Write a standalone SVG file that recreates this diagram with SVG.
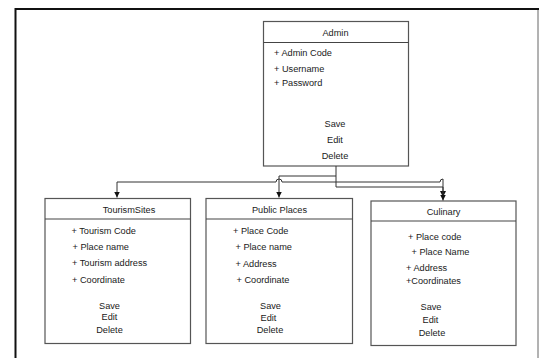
<svg xmlns="http://www.w3.org/2000/svg" width="539" height="358" viewBox="0 0 539 358">
<defs>
<style>
text{font-family:"Liberation Sans",Arial,sans-serif;font-size:9.2px;fill:#1a1a1a}
.c{text-anchor:middle}
.box{fill:#fff;stroke:#555;stroke-width:1.2}
.sep{stroke:#444;stroke-width:1.2}
.ln{fill:none;stroke:#333;stroke-width:1}
</style>
<marker id="ah" viewBox="0 0 8 8" refX="8" refY="4" markerWidth="6" markerHeight="6" markerUnits="userSpaceOnUse" orient="auto">
<path d="M0,0 L8,4 L0,8 Z" fill="#111"/>
</marker>
</defs>
<rect width="539" height="358" fill="#fff"/>
<g id="frame">
<line x1="15.5" y1="9" x2="539" y2="9" stroke="#111" stroke-width="2"/>
<line x1="15.5" y1="8" x2="15.5" y2="358" stroke="#111" stroke-width="2"/>
<line x1="538" y1="10" x2="538" y2="358" stroke="#666" stroke-width="1"/>
</g>
<g id="admin">
<rect class="box" x="263.5" y="21.5" width="145" height="144.5"/>
<line class="sep" x1="263.5" y1="42.5" x2="408.5" y2="42.5"/>
<text class="c" x="335.5" y="35.5">Admin</text>
<text x="274" y="56">+ Admin Code</text>
<text x="274" y="72">+ Username</text>
<text x="274" y="86">+ Password</text>
<text class="c" x="335" y="127">Save</text>
<text class="c" x="335" y="143">Edit</text>
<text class="c" x="335" y="159">Delete</text>
</g>
<g id="tourism">
<rect class="box" x="45" y="198.5" width="145.5" height="145"/>
<line class="sep" x1="45" y1="219" x2="190.5" y2="219"/>
<text class="c" x="129" y="212.5">TourismSites</text>
<text x="71.5" y="234">+ Tourism Code</text>
<text x="72.5" y="249.5">+  Place name</text>
<text x="72" y="266">+ Tourism address</text>
<text x="72" y="282.5">+ Coordinate</text>
<text class="c" x="109.5" y="308.5">Save</text>
<text class="c" x="109.5" y="319.5">Edit</text>
<text class="c" x="109.5" y="333">Delete</text>
</g>
<g id="public">
<rect class="box" x="206" y="198.5" width="146.5" height="145"/>
<line class="sep" x1="206" y1="219" x2="352.5" y2="219"/>
<text class="c" x="279.5" y="212.5">Public Places</text>
<text x="233" y="234">+ Place Code</text>
<text x="235.5" y="249.5">+ Place name</text>
<text x="235.5" y="266.5">+ Address</text>
<text x="236.5" y="282.5">+ Coordinate</text>
<text class="c" x="270.5" y="308.5">Save</text>
<text class="c" x="268.5" y="320.5">Edit</text>
<text class="c" x="270" y="332.5">Delete</text>
</g>
<g id="culinary">
<rect class="box" x="371" y="201" width="145" height="144.5"/>
<line class="sep" x1="371" y1="221" x2="516" y2="221"/>
<text class="c" x="443.5" y="214.5">Culinary</text>
<text x="408" y="239.5">+ Place code</text>
<text x="411.5" y="254.5">+ Place Name</text>
<text x="406" y="270.5">+ Address</text>
<text x="406" y="283.5">+Coordinates</text>
<text class="c" x="431" y="310">Save</text>
<text class="c" x="430.5" y="322.5">Edit</text>
<text class="c" x="432" y="335.5">Delete</text>
</g>
<g id="connectors">
<path class="ln" d="M336,166 V176 H279 V197.5" marker-end="url(#ah)"/>
<path class="ln" d="M336,176 V182 H282 A3,3 0 0 0 276,182 H117 V197.5" marker-end="url(#ah)"/>
<path class="ln" d="M336,182 H440 A3,3 0 0 1 443,179 V197" marker-end="url(#ah)"/>
<path class="ln" d="M336,182 V187 H443 V200.5" marker-end="url(#ah)"/>
</g>
</svg>
